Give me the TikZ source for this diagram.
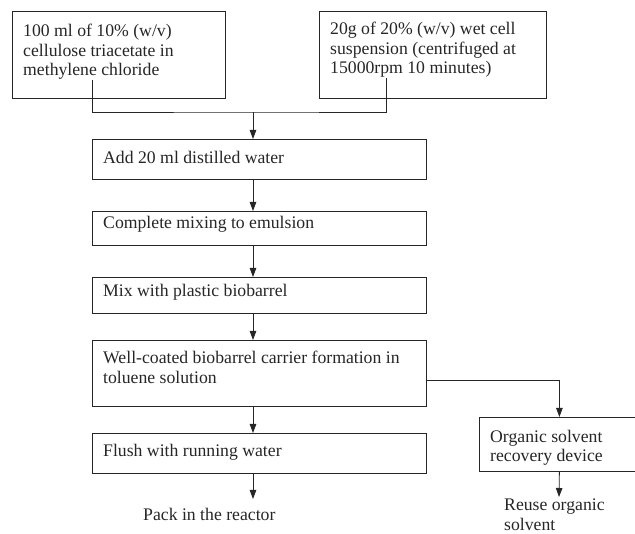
\documentclass[tikz,border=0pt]{standalone}
\usepackage{fontspec}
\setmainfont{Liberation Serif}
\usepackage{xcolor}
\usepackage{tikz}
\usetikzlibrary{positioning,arrows.meta}
\definecolor{ink}{HTML}{262626}

\tikzset{
  stage/.style={draw=ink, line width=0.8pt, anchor=north west, inner sep=0pt},
  stagetext/.style={anchor=north west, inner sep=0pt, xshift=11pt, align=left,
    text=ink, font=\fontsize{17.7}{19.5}\selectfont},
  outcome/.style={inner sep=0pt, align=left, text=ink,
    font=\fontsize{17.7}{19.5}\selectfont},
  link/.style={draw=ink, line width=0.8pt},
  flow/.style={link, -{Triangle[length=9pt,width=6.5pt]}}
}

\begin{document}
\begin{tikzpicture}[x=1pt,y=1pt]
\useasboundingbox (0,0) rectangle (635,-534);

% starting materials
\node[stage, minimum width=213, minimum height=87,
  label={[stagetext, yshift=-13pt]north west:100 ml of 10\% (w/v)\\cellulose triacetate in\\methylene chloride}]
  (ctasol) at (12,-11) {};
\node[stage, minimum width=227, minimum height=87,
  label={[stagetext, yshift=-11pt]north west:20g of 20\% (w/v) wet cell\\suspension (centrifuged at\\15000rpm 10 minutes)}]
  (cells) at (319,-11) {};

% main steps
\node[stage, minimum width=334, minimum height=40,
  label={[stagetext, yshift=-12pt]north west:Add 20 ml distilled water}]
  (water) at (92,-139) {};
\node[stage, minimum width=334, minimum height=34,
  label={[stagetext, yshift=-5pt]north west:Complete mixing to emulsion}]
  (emulsion) at (92,-211) {};
\node[stage, minimum width=334, minimum height=36,
  label={[stagetext, yshift=-7pt]north west:Mix with plastic biobarrel}]
  (plastic) at (92,-277) {};
\node[stage, minimum width=334, minimum height=66,
  label={[stagetext, yshift=-11pt]north west:Well-coated biobarrel carrier formation in\\toluene solution}]
  (coating) at (92,-340) {};
\node[stage, minimum width=334, minimum height=40,
  label={[stagetext, yshift=-11pt]north west:Flush with running water}]
  (flush) at (92,-433) {};
\node[stage, minimum width=160, minimum height=54,
  label={[stagetext, yshift=-13pt]north west:Organic solvent\\recovery device}]
  (recovery) at (479,-417) {};

% end products
\node[outcome, anchor=base west] (pack) at (143,-521) {Pack in the reactor};
\node[outcome, anchor=north west] (reuse) at (504,-499) {Reuse organic\\solvent};

% connectors
\coordinate (ctaout) at (92,-80);
\coordinate (cellout) at (386,-78);
\coordinate (merge) at (253,-112);
\coordinate (packend) at (253,-499);
\coordinate (reuseend) at (559,-497);

\draw[link] (ctaout) |- (merge) -| (cellout);
\draw[flow] (merge) -- (water.north -| merge);
\foreach \a/\b in {water/emulsion, emulsion/plastic, plastic/coating, coating/flush}
  \draw[flow] (\a.south -| merge) -- (\b.north -| merge);
\draw[flow] (flush.south -| merge) -- (packend);
\draw[flow] ([yshift=-7pt]coating.east) -| (recovery.north);
\draw[flow] (recovery.south) -- (reuseend);
\end{tikzpicture}
\end{document}
